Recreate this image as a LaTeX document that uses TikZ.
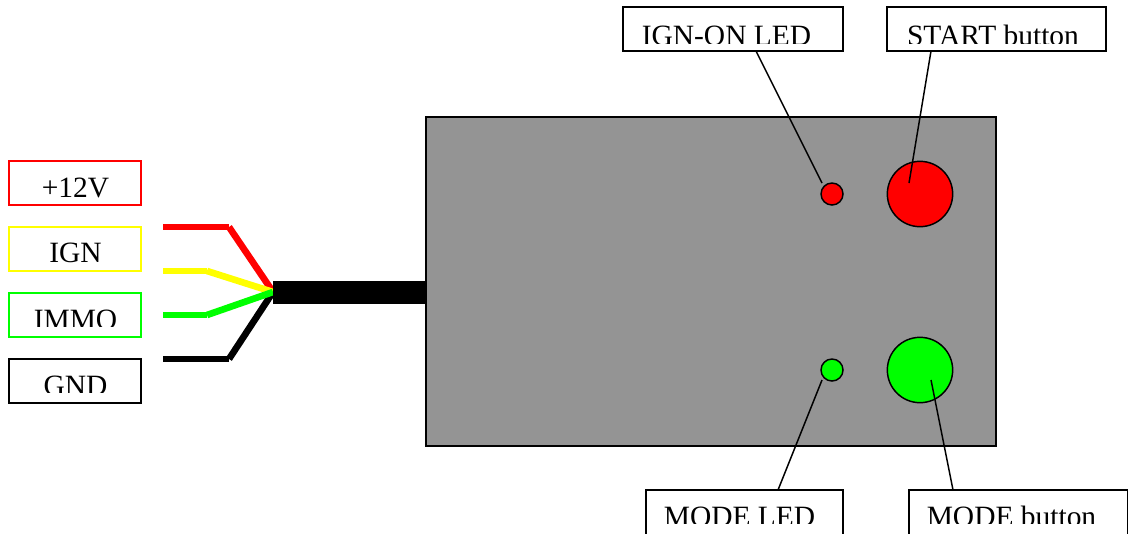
\documentclass[tikz,border=0pt]{standalone}
\usepackage{fontspec}
\setmainfont{Liberation Serif}
\tikzset{
  x=0.75pt,y=-0.75pt,
  labelbox/.style={draw=#1,fill=white,line width=1.2pt,inner sep=0pt,outer sep=0pt,minimum height=33pt},
  labeltext/.style={anchor=base,inner sep=0pt,outer sep=0pt,font=\fontsize{22.1pt}{26pt}\selectfont,text=black},
  wire/.style={draw=#1,line width=5pt},
  leader/.style={draw=black,line width=1.1pt},
  part/.style={circle,draw=black,fill=#1,line width=1.1pt,inner sep=0pt,outer sep=0pt},
}
\newcommand{\cliptext}[5]{\begin{scope}\clip (#2-150,#3-60) rectangle (#2+150,#4);\node[labeltext] (#1) at (#2,#3) {#5};\end{scope}}
\definecolor{bodygray}{HTML}{949494}
\definecolor{ledgreen}{HTML}{00FF00}
\definecolor{wireyellow}{HTML}{FFFF00}
\begin{document}
\begin{tikzpicture}
\useasboundingbox (0,0) rectangle (1128,533);
% left labels
\node[labelbox=red,minimum width=99pt] (b12) at (75,183) {};
\node[labelbox=wireyellow,minimum width=99pt] (bign) at (75,249) {};
\node[labelbox=ledgreen,minimum width=99pt] (bimmo) at (75,315) {};
\node[labelbox=black,minimum width=99pt] (bgnd) at (75,381) {};
\cliptext{t12}{75.5}{197}{203}{+12V}
\cliptext{tign}{75.5}{262.5}{262}{IGN}
\cliptext{timmo}{75.5}{329.5}{326}{IMMO}
\cliptext{tgnd}{75.5}{395.5}{392}{GND}
% wires
\coordinate (joint) at (273,292);
\coordinate (ra) at (163,227); \coordinate (rb) at (229,227);
\coordinate (ya) at (163,271); \coordinate (yb) at (207,271);
\coordinate (ga) at (163,315); \coordinate (gb) at (207,315);
\coordinate (ka) at (163,359); \coordinate (kb) at (229,359);
\draw[wire=black] (ka) -- (kb); \draw[wire=black] (kb) -- (joint);
\draw[wire=red] (ra) -- (rb); \draw[wire=red] (rb) -- (joint);
\draw[wire=wireyellow] (ya) -- (yb); \draw[wire=wireyellow] (yb) -- (joint);
\draw[wire=ledgreen] (ga) -- (gb); \draw[wire=ledgreen] (gb) -- (joint);
% cable and body
\node[fill=black,inner sep=0pt,outer sep=0pt,minimum width=115.5pt,minimum height=17.25pt] (cable) at (350,292.5) {};
\node[draw=black,fill=bodygray,line width=1.2pt,inner sep=0pt,outer sep=0pt,minimum width=427.5pt,minimum height=246.75pt] (body) at (711.2,281.5) {};
% parts
\node[part=red,minimum size=16.5pt] (ledr) at (832,194) {};
\node[part=red,minimum size=49pt] (btnr) at (920,194) {};
\node[part=ledgreen,minimum size=16.5pt] (ledg) at (832,370) {};
\node[part=ledgreen,minimum size=49pt] (btng) at (920,370) {};
% top and bottom labels
\node[labelbox=black,minimum width=165pt] (bignon) at (733,29) {};
\node[labelbox=black,minimum width=164.25pt] (bstart) at (996.5,29) {};
\node[labelbox=black,minimum width=147.75pt,minimum height=45pt] (bmodeled) at (744.5,520) {};
\node[labelbox=black,minimum width=164.25pt,minimum height=45pt] (bmodebtn) at (1018.5,520) {};
\cliptext{tignon}{726.5}{45}{43.5}{IGN-ON LED}
\cliptext{tstart}{993}{45}{43.5}{START button}
\cliptext{tmodeled}{739.5}{526}{523}{MODE LED}
\cliptext{tmodebtn}{1011.5}{526}{523}{MODE button}
% leaders
\coordinate (l1a) at (756,51); \coordinate (l1b) at (822,183);
\coordinate (l2a) at (931,51); \coordinate (l2b) at (909,183);
\coordinate (l3a) at (778,490); \coordinate (l3b) at (822,380);
\coordinate (l4a) at (953,490); \coordinate (l4b) at (931,380);
\draw[leader] (l1a) -- (l1b);
\draw[leader] (l2a) -- (l2b);
\draw[leader] (l3a) -- (l3b);
\draw[leader] (l4a) -- (l4b);
\end{tikzpicture}
\end{document}
